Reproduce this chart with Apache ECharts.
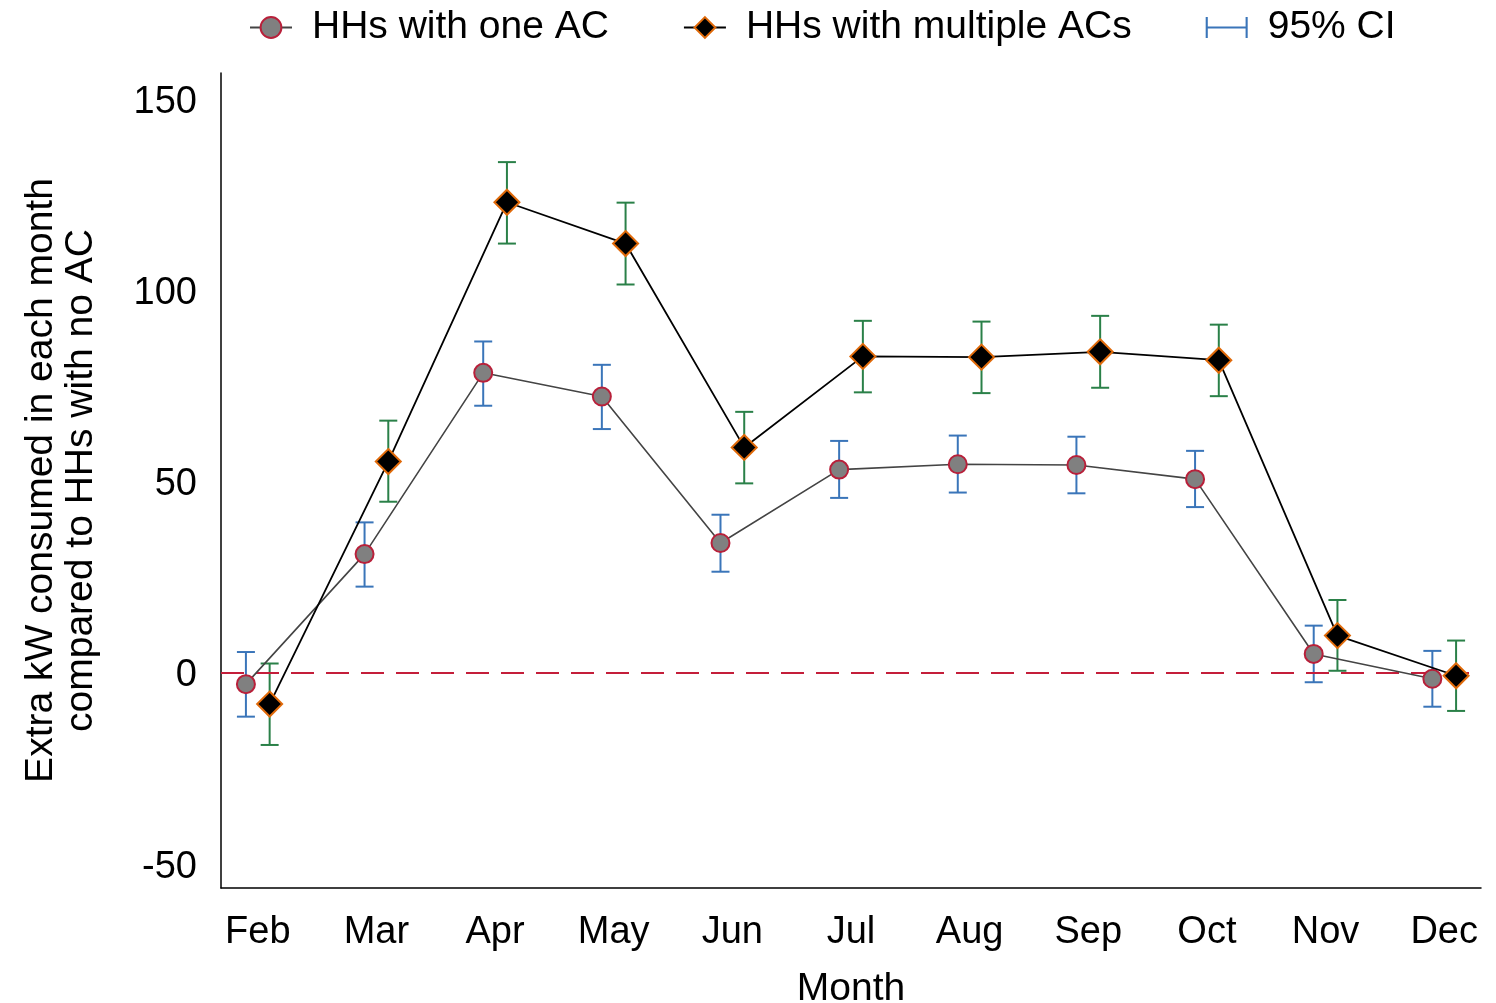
<!DOCTYPE html>
<html>
<head>
<meta charset="utf-8">
<script src="https://cdn.jsdelivr.net/npm/echarts@6/dist/echarts.min.js"></script>
<style>
  html, body { margin: 0; padding: 0; background: #fff; }
  #chart { width: 1496px; height: 1003px; }
</style>
</head>
<body>
<div id="chart"></div>
<script>
// months on the x axis (position 1..11)
const months = ['Feb', 'Mar', 'Apr', 'May', 'Jun', 'Jul', 'Aug', 'Sep', 'Oct', 'Nov', 'Dec'];
const yTicks = [-50, 0, 50, 100, 150];

// HHs with one AC: estimate and 95% CI
const oneAC   = [-3.1, 30.9, 78.3, 72.1, 33.8, 53.0, 54.4, 54.2, 50.5, 4.8, -1.7];
const oneLo   = [-11.6, 22.4, 69.7, 63.6, 26.3, 45.6, 47.0, 46.8, 43.2, -2.6, -9.0];
const oneHi   = [5.3, 39.2, 86.5, 80.4, 41.2, 60.5, 61.9, 61.6, 57.9, 12.2, 5.6];

// HHs with multiple ACs: estimate and 95% CI
const multiAC = [-8.3, 55.1, 122.9, 112.1, 58.8, 82.6, 82.4, 83.8, 81.6, 9.6, -0.9];
const multiLo = [-19.0, 44.6, 112.1, 101.4, 49.4, 73.2, 73.0, 74.4, 72.2, 0.4, -10.1];
const multiHi = [2.3, 65.8, 133.4, 122.8, 68.1, 91.9, 91.7, 93.2, 90.9, 18.9, 8.3];

const FONT = "'Liberation Sans', Arial, Helvetica, sans-serif";
const shift = 0.1; // the two groups sit a little left / right of the month

const pts = (vals, dx) => vals.map((v, i) => [i + 1 + dx, v]);
const bars = (lo, hi, dx) => lo.map((l, i) => [i + 1 + dx, l, hi[i]]);

// error bar with caps
function renderCI(params, api) {
  const x = api.value(0);
  const lo = api.coord([x, api.value(1)]);
  const hi = api.coord([x, api.value(2)]);
  const half = 9;
  const style = { stroke: api.visual('color'), lineWidth: 2 };
  return {
    type: 'group',
    children: [
      { type: 'line', shape: { x1: hi[0], y1: hi[1], x2: lo[0], y2: lo[1] }, style },
      { type: 'line', shape: { x1: hi[0] - half, y1: hi[1], x2: hi[0] + half, y2: hi[1] }, style },
      { type: 'line', shape: { x1: lo[0] - half, y1: lo[1], x2: lo[0] + half, y2: lo[1] }, style }
    ]
  };
}

const chart = echarts.init(document.getElementById('chart'));

chart.setOption({
  animation: false,
  textStyle: { fontFamily: FONT, color: '#000' },
  legend: {
    left: 244,
    top: 3,
    itemWidth: 42,
    itemHeight: 26,
    itemGap: 74,
    textStyle: { fontSize: 39, color: '#000', fontFamily: FONT, padding: [0, 0, 0, 15] },
    data: [
      { name: 'HHs with one AC' },
      { name: 'HHs with multiple ACs' },
      {
        name: '95% CI',
        icon: 'path://M0,0h2v20h-2z M2,9h36v2h-36z M38,0h2v20h-2z',
        itemStyle: { color: '#3a75b9' }
      }
    ]
  },
  grid: { left: 221, right: 15, top: 73, bottom: 115, outerBoundsMode: 'none' },
  xAxis: {
    type: 'value',
    min: 0.69,
    max: 11.31,
    name: 'Month',
    nameLocation: 'middle',
    nameGap: 82,
    nameTextStyle: { fontSize: 39, color: '#000', fontFamily: FONT },
    axisLine: { show: true, onZero: false, lineStyle: { color: '#000', width: 1.5 } },
    axisTick: { show: false },
    splitLine: { show: false },
    axisLabel: {
      customValues: months.map((m, i) => i + 1),
      formatter: v => months[Math.round(v) - 1],
      fontSize: 38,
      color: '#000',
      fontFamily: FONT,
      margin: 26
    }
  },
  yAxis: {
    type: 'value',
    min: -56.4,
    max: 156.7,
    name: 'Extra kW consumed in each month\ncompared to HHs with no AC',
    nameLocation: 'middle',
    nameGap: 120,
    nameTextStyle: { fontSize: 39, lineHeight: 40, color: '#000', fontFamily: FONT },
    axisLine: { show: true, onZero: false, lineStyle: { color: '#000', width: 1.5 } },
    axisTick: { show: false },
    splitLine: { show: false },
    axisLabel: {
      customValues: yTicks,
      formatter: v => '{t|' + v + '}',
      margin: 24,
      rich: {
        t: { fontSize: 38, color: '#000', fontFamily: FONT, padding: [7, 0, 0, 0] }
      }
    }
  },
  series: [
    {
      name: '95% CI',
      type: 'custom',
      renderItem: renderCI,
      itemStyle: { color: '#3a75b9' },
      encode: { x: 0, y: [1, 2] },
      data: bars(oneLo, oneHi, -shift),
      z: 1
    },
    {
      name: '95% CI',
      type: 'custom',
      renderItem: renderCI,
      itemStyle: { color: '#2a8048' },
      encode: { x: 0, y: [1, 2] },
      data: bars(multiLo, multiHi, shift),
      z: 1
    },
    {
      name: 'HHs with one AC',
      type: 'line',
      data: pts(oneAC, -shift),
      symbol: 'circle',
      symbolSize: 18,
      lineStyle: { color: '#444', width: 1.6 },
      itemStyle: { color: '#808080', borderColor: '#b8203a', borderWidth: 2 },
      z: 3,
      markLine: {
        silent: true,
        symbol: 'none',
        label: { show: false },
        lineStyle: { color: '#c41e3a', width: 2, type: [23, 12] },
        data: [{ yAxis: 0 }],
        z: 2
      }
    },
    {
      name: 'HHs with multiple ACs',
      type: 'line',
      data: pts(multiAC, shift),
      symbol: 'diamond',
      symbolSize: 25,
      lineStyle: { color: '#000', width: 1.8 },
      itemStyle: { color: '#000', borderColor: '#e06a0a', borderWidth: 2 },
      z: 4
    }
  ]
});
</script>
</body>
</html>
